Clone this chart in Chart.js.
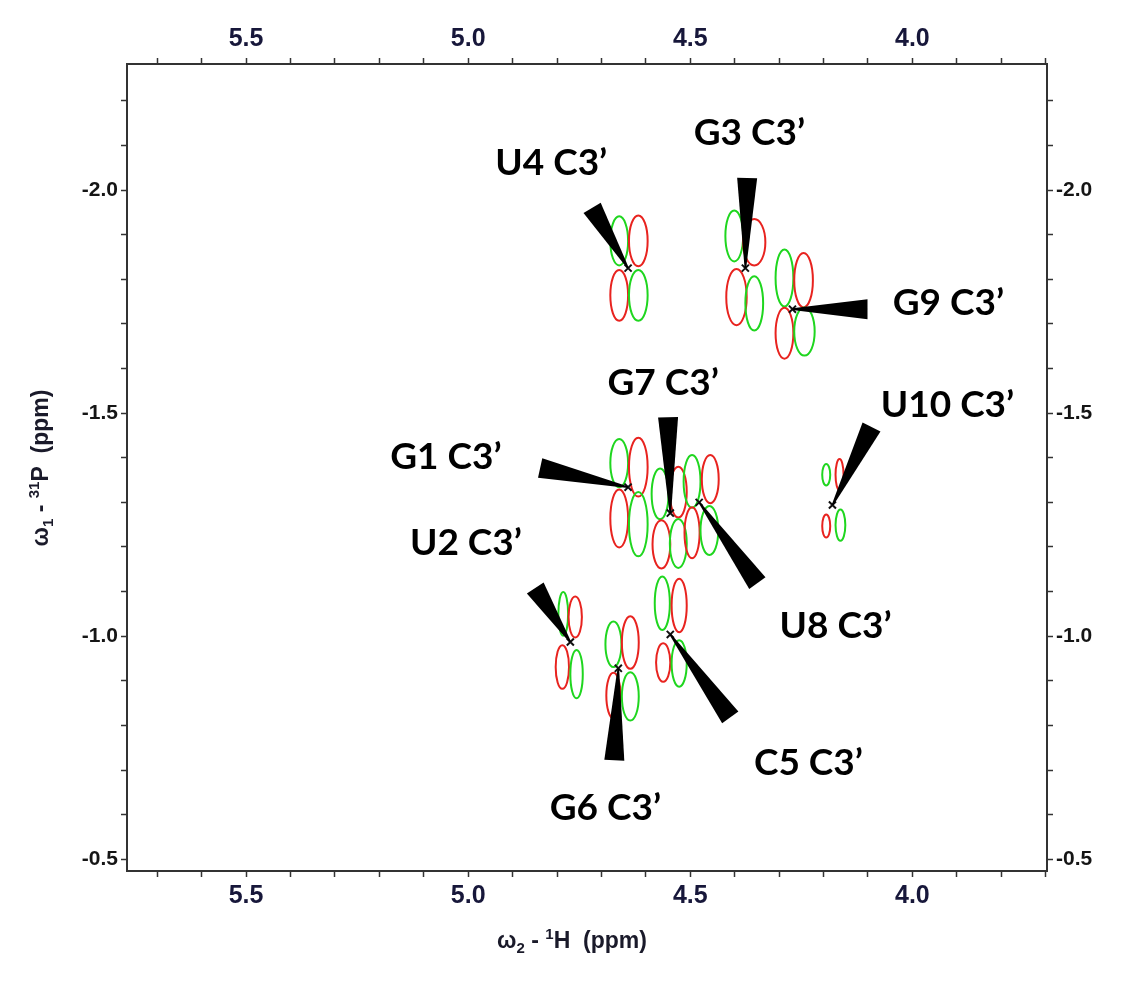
<!DOCTYPE html>
<html>
<head>
<meta charset="utf-8">
<script src="https://cdn.jsdelivr.net/npm/chart.js@4.4.1/dist/chart.umd.min.js"></script>
<style>
  html, body { margin: 0; padding: 0; background: #fff; }
  #wrap { width: 1144px; height: 998px; position: relative; }
</style>
</head>
<body>
<div id="wrap"><canvas id="spectrum"></canvas></div>
<script>
// H3'-P cross peaks, chemical shifts in ppm
const peakNames = ['U4', 'G3', 'G9', 'G1', 'G7', 'U8', 'U10', 'U2', 'G6', 'C5'];
const peakH = [4.640, 4.376, 4.270, 4.640, 4.545, 4.480, 4.180, 4.770, 4.662, 4.545];
const peakP = [-1.825, -1.825, -1.733, -1.334, -1.276, -1.300, -1.294, -0.987, -0.928, -1.004];

// label centre and pointer base for each peak (ppm)
const labelH = [4.813, 4.367, 3.919, 5.050, 4.561, 4.173, 3.921, 5.005, 4.691, 4.234];
const labelP = [-2.063, -2.130, -1.749, -1.404, -1.570, -1.025, -1.520, -1.211, -0.617, -0.717];
const pointerH = [4.721, 4.372, 4.101, 4.838, 4.550, 4.349, 4.092, 4.849, 4.671, 4.410];
const pointerP = [-1.960, -2.027, -1.733, -1.377, -1.491, -1.119, -1.469, -1.108, -0.722, -0.818];

// multiplet lobes per peak: [dH, dP, half width H, half width P] in ppm
const lobePhase = [1, -1, -1, 1];
const peakLobes = [
  [[0.020, -0.061, 0.020, 0.055], [-0.023, -0.061, 0.021, 0.057], [0.020, 0.061, 0.020, 0.057], [-0.023, 0.061, 0.021, 0.057]],
  [[0.025, -0.072, 0.020, 0.057], [-0.020, -0.058, 0.025, 0.052], [0.020, 0.065, 0.023, 0.063], [-0.020, 0.079, 0.020, 0.061]],
  [[0.018, -0.070, 0.020, 0.064], [-0.025, -0.065, 0.021, 0.061], [0.018, 0.054, 0.020, 0.057], [-0.027, 0.050, 0.023, 0.054]],
  [[0.020, -0.054, 0.020, 0.054], [-0.023, -0.045, 0.021, 0.066], [0.020, 0.070, 0.020, 0.065], [-0.023, 0.083, 0.021, 0.072]],
  [[0.023, -0.043, 0.019, 0.057], [-0.018, -0.047, 0.019, 0.057], [0.020, 0.070, 0.020, 0.054], [-0.018, 0.068, 0.019, 0.055]],
  [[0.016, -0.047, 0.019, 0.059], [-0.025, -0.052, 0.019, 0.054], [0.016, 0.068, 0.017, 0.057], [-0.023, 0.063, 0.020, 0.055]],
  [[0.014, -0.068, 0.009, 0.024], [-0.016, -0.068, 0.009, 0.035], [0.014, 0.047, 0.009, 0.026], [-0.018, 0.045, 0.011, 0.035]],
  [[0.016, -0.063, 0.011, 0.049], [-0.011, -0.056, 0.015, 0.046], [0.018, 0.056, 0.015, 0.049], [-0.014, 0.072, 0.014, 0.054]],
  [[0.011, -0.054, 0.018, 0.051], [-0.027, -0.058, 0.019, 0.059], [0.011, 0.061, 0.016, 0.051], [-0.027, 0.063, 0.019, 0.054]],
  [[0.018, -0.070, 0.017, 0.060], [-0.020, -0.065, 0.017, 0.060], [0.016, 0.063, 0.016, 0.043], [-0.020, 0.065, 0.017, 0.052]]
];

// axes
const hRange = [3.697, 5.768];
const pRange = [-2.2825, -0.4738];
const hTickLabels = ['5.5', '5.0', '4.5', '4.0'];
const pTickLabels = ['-2.0', '-1.5', '-1.0', '-0.5'];

const GREEN = '#1fd61f';
const RED = '#e8231f';

const labelFor = list => v => {
  const hit = list.find(t => Math.abs(parseFloat(t) - v) < 1e-6);
  return hit || '';
};

const grid = { drawOnChartArea: false, drawTicks: true, tickLength: 6, tickColor: '#333', tickWidth: 1.5 };
const border = { display: true, color: '#333', width: 2 };

const hAxis = (pos, h) => ({
  type: 'linear', position: pos, reverse: true,
  min: hRange[0], max: hRange[1],
  grid, border,
  ticks: {
    stepSize: 0.1, includeBounds: false, autoSkip: false, maxTicksLimit: 60, maxRotation: 0,
    padding: 4, color: '#17173a',
    font: { family: '"Liberation Sans Narrow", "Liberation Sans"', size: 25, weight: 'bold' },
    callback: labelFor(hTickLabels)
  },
  afterFit: s => { s.height = h; }
});

const pAxis = (pos, w) => ({
  type: 'linear', position: pos, reverse: true,
  min: pRange[0], max: pRange[1],
  grid, border,
  ticks: {
    stepSize: 0.1, includeBounds: false, autoSkip: false, maxTicksLimit: 60,
    padding: 3, color: '#151515',
    font: { family: 'Liberation Sans', size: 21, weight: 'bold' },
    callback: labelFor(pTickLabels)
  },
  afterFit: s => { s.width = w; }
});

// draws text with a small raised / lowered part, e.g. ω₂ and ¹H
function drawRich(ctx, parts, cx, cy, rotate) {
  ctx.save();
  ctx.translate(cx, cy);
  if (rotate) ctx.rotate(-Math.PI / 2);
  const big = 'bold 23px "Liberation Sans"';
  const small = 'bold 15px "Liberation Sans"';
  let total = 0;
  parts.forEach(p => { ctx.font = p.s ? small : big; total += ctx.measureText(p.t).width; });
  let x = -total / 2;
  ctx.fillStyle = '#1a1a2a';
  ctx.textBaseline = 'alphabetic';
  parts.forEach(p => {
    ctx.font = p.s ? small : big;
    ctx.fillText(p.t, x, 8 + (p.s || 0));
    x += ctx.measureText(p.t).width;
  });
  ctx.restore();
}

const spectrumPlugin = {
  id: 'spectrum',
  beforeDatasetsDraw(chart) {
    const { ctx, scales: { x, y } } = chart;
    ctx.save();
    ctx.lineWidth = 2;
    peakLobes.forEach((lobes, i) => {
      lobes.forEach(([dh, dp, rh, rp], k) => {
        const cx = x.getPixelForValue(peakH[i] + dh);
        const cy = y.getPixelForValue(peakP[i] + dp);
        const rx = Math.abs(x.getPixelForValue(peakH[i] + dh + rh) - cx);
        const ry = Math.abs(y.getPixelForValue(peakP[i] + dp + rp) - cy);
        ctx.strokeStyle = lobePhase[k] > 0 ? GREEN : RED;
        ctx.beginPath();
        ctx.ellipse(cx, cy, rx, ry, 0, 0, Math.PI * 2);
        ctx.stroke();
      });
    });
    ctx.restore();
  },
  afterDatasetsDraw(chart) {
    const { ctx, scales: { x, y } } = chart;
    ctx.save();
    // pointers
    ctx.fillStyle = '#000';
    peakNames.forEach((n, i) => {
      const tx = x.getPixelForValue(peakH[i]), ty = y.getPixelForValue(peakP[i]);
      const bx = x.getPixelForValue(pointerH[i]), by = y.getPixelForValue(pointerP[i]);
      const len = Math.hypot(bx - tx, by - ty);
      const nx = -(by - ty) / len, ny = (bx - tx) / len;
      ctx.beginPath();
      ctx.moveTo(tx + nx * 0.8, ty + ny * 0.8);
      ctx.lineTo(bx + nx * 10, by + ny * 10);
      ctx.lineTo(bx - nx * 10, by - ny * 10);
      ctx.lineTo(tx - nx * 0.8, ty - ny * 0.8);
      ctx.closePath();
      ctx.fill();
    });
    // labels
    ctx.font = 'bold 37px Lato';
    ctx.textAlign = 'center';
    ctx.textBaseline = 'alphabetic';
    peakNames.forEach((n, i) => {
      ctx.fillText(n + ' C3\u2019', x.getPixelForValue(labelH[i]), y.getPixelForValue(labelP[i]) + 13);
    });
    ctx.restore();
  },
  afterDraw(chart) {
    const { ctx } = chart;
    drawRich(ctx, [{ t: '\u03c9' }, { t: '2', s: 5 }, { t: ' - ' }, { t: '1', s: -9 }, { t: 'H  (ppm)' }], 572, 940, false);
    drawRich(ctx, [{ t: '\u03c9' }, { t: '1', s: 5 }, { t: ' - ' }, { t: '31', s: -9 }, { t: 'P  (ppm)' }], 40, 468, true);
  }
};

new Chart(document.getElementById('spectrum'), {
  type: 'scatter',
  data: {
    datasets: [{
      data: peakH.map((h, i) => ({ x: h, y: peakP[i] })),
      xAxisID: 'x', yAxisID: 'y',
      pointStyle: 'crossRot', pointRadius: 5, pointHoverRadius: 5,
      borderColor: '#111', borderWidth: 2, backgroundColor: 'rgba(0,0,0,0)'
    }]
  },
  options: {
    responsive: true,
    maintainAspectRatio: false,
    animation: false,
    layout: { padding: 0 },
    plugins: { legend: { display: false }, tooltip: { enabled: false } },
    scales: {
      x: hAxis('bottom', 127),
      xTop: hAxis('top', 64),
      y: pAxis('left', 127),
      yRight: pAxis('right', 97)
    }
  },
  plugins: [spectrumPlugin]
});
</script>
</body>
</html>
